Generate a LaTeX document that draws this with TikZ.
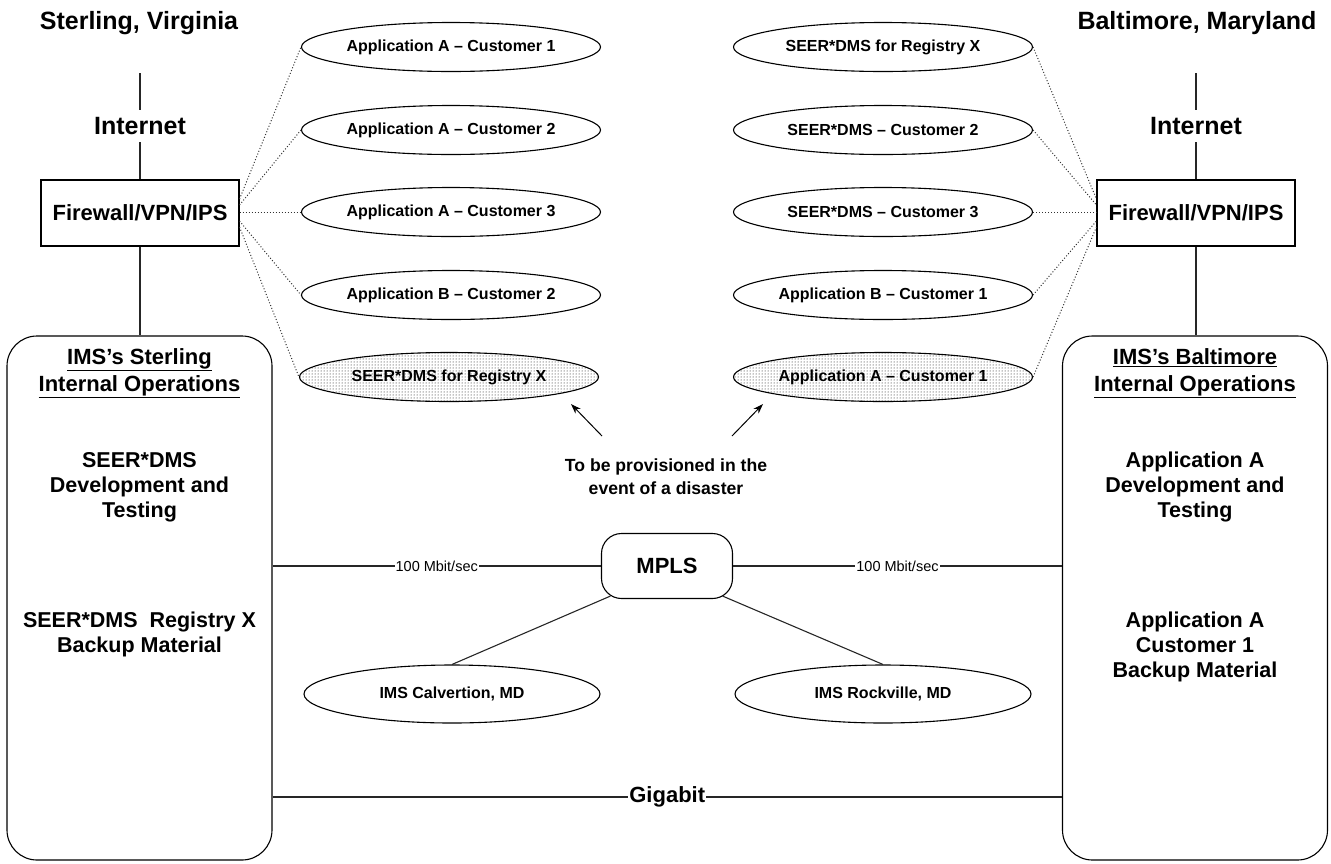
\documentclass[tikz,border=0pt]{standalone}
\usepackage{fontspec}
\setmainfont{Liberation Sans}
\usetikzlibrary{shapes.geometric,patterns,calc,arrows.meta}
\begin{document}
\begin{tikzpicture}[x=1pt,y=-1pt,
  line/.style={draw=black!85, line width=1.1pt},
  dotline/.style={draw=black!80, line width=1pt, dotted},
  fwbox/.style={draw, line width=1.1pt, minimum width=198pt, minimum height=66pt, inner sep=0pt, font=\fontsize{22}{26}\selectfont\bfseries},
  title/.style={font=\fontsize{25}{30}\selectfont\bfseries, inner sep=0pt},
  inet/.style={font=\fontsize{25}{30}\selectfont\bfseries, inner sep=0pt, minimum height=32pt},
  app/.style={ellipse, draw, line width=1.1pt, minimum width=299pt, minimum height=49pt, inner sep=0pt, font=\fontsize{16}{19}\selectfont\bfseries},
  dr/.style={app, pattern=dots, pattern color=black},
  site/.style={ellipse, draw, line width=1.1pt, minimum width=296pt, minimum height=58pt, inner sep=0pt, font=\fontsize{16}{19}\selectfont\bfseries},
  opsbox/.style={draw, line width=1.1pt, rounded corners=30pt, minimum width=265pt, minimum height=524pt, inner sep=0pt},
  head/.style={align=center, inner sep=0pt, anchor=north, font=\fontsize{22}{27}\selectfont\bfseries},
  body/.style={align=center, inner sep=0pt, anchor=north, font=\fontsize{21.5}{25}\selectfont\bfseries},
  mplsbox/.style={draw, line width=1.1pt, rounded corners=20pt, minimum width=131pt, minimum height=65pt, inner sep=0pt, font=\fontsize{22}{26}\selectfont\bfseries},
  speed/.style={fill=white, inner sep=1pt, font=\fontsize{14.5}{17}\selectfont},
  giga/.style={fill=white, inner sep=1pt, font=\fontsize{22}{26}\selectfont\bfseries},
  note/.style={align=center, inner sep=0pt, font=\fontsize{17.6}{23}\selectfont\bfseries},
  arr/.style={draw, line width=1pt, -{Stealth[length=10pt,width=7pt]}}
]
\useasboundingbox (0,0) rectangle (1331,863);

% titles
\node[title] (tL) at (139,23) {Sterling, Virginia};
\node[title] (tR) at (1197,23) {Baltimore, Maryland};

% internet
\coordinate (topL) at (140,73);
\coordinate (topR) at (1196,73);
\node[inet] (inetL) at (140,126) {Internet};
\node[inet] (inetR) at (1196,126) {Internet};

% firewalls
\node[fwbox] (fwL) at (140,213) {Firewall/VPN/IPS};
\node[fwbox] (fwR) at (1196,213) {Firewall/VPN/IPS};

% operations boxes
\node[opsbox] (opsL) at (139.5,598) {};
\node[opsbox] (opsR) at (1195,598) {};

\node[head] (hL) at (139.5,348) {\underline{IMS’s Sterling}\\\underline{Internal Operations}};
\node[head] (hR) at (1195,348) {\underline{IMS’s Baltimore}\\\underline{Internal Operations}};
\node[body] (bL1) at (139.5,452) {SEER*DMS\\Development and\\Testing};
\node[body] (bL2) at (139.5,612) {SEER*DMS\ \ Registry X\\Backup Material};
\node[body] (bR1) at (1195,452) {Application A\\Development and\\Testing};
\node[body] (bR2) at (1195,612) {Application A\\Customer 1\\Backup Material};

% application ellipses
\node[app] (a1) at (451,47) {Application A – Customer 1};
\node[app] (a2) at (451,130) {Application A – Customer 2};
\node[app] (a3) at (451,212) {Application A – Customer 3};
\node[app] (a4) at (451,295) {Application B – Customer 2};
\node[dr]  (a5) at (449,377) {SEER*DMS for Registry X};

\node[app] (b1) at (883,47) {SEER*DMS for Registry X};
\node[app] (b2) at (883,130) {SEER*DMS – Customer 2};
\node[app] (b3) at (883,212) {SEER*DMS – Customer 3};
\node[app] (b4) at (883,295) {Application B – Customer 1};
\node[dr]  (b5) at (883,377) {Application A – Customer 1};

% MPLS and sites
\node[mplsbox] (mpls) at (667,566) {MPLS};
\node[site] (calv) at (452,694) {IMS Calvertion, MD};
\node[site] (rock) at (883,694) {IMS Rockville, MD};

% note
\node[note] (note) at (666,477) {To be provisioned in the\\event of a disaster};

% vertical connectors
\draw[line] (topL) -- (inetL.north);
\draw[line] (inetL.south) -- (fwL.north);
\draw[line] (fwL.south) -- (fwL.south |- opsL.north);
\draw[line] (topR) -- (inetR.north);
\draw[line] (inetR.south) -- (fwR.north);
\draw[line] (fwR.south) -- (fwR.south |- opsR.north);

% dotted connectors left
\coordinate (l1) at ($(fwL.east)+(0,-14)$);
\coordinate (l2) at ($(fwL.east)+(0,-8)$);
\coordinate (l3) at ($(fwL.east)+(0,-1)$);
\coordinate (l4) at ($(fwL.east)+(0,8)$);
\coordinate (l5) at ($(fwL.east)+(0,14)$);
\draw[dotline] (l1) -- (a1.west);
\draw[dotline] (l2) -- (a2.west);
\draw[dotline] (l3) -- (a3.west);
\draw[dotline] (l4) -- (a4.west);
\draw[dotline] (l5) -- (a5.west);

% dotted connectors right
\coordinate (r1) at ($(fwR.west)+(0,-14)$);
\coordinate (r2) at ($(fwR.west)+(0,-8)$);
\coordinate (r3) at ($(fwR.west)+(0,-1)$);
\coordinate (r4) at ($(fwR.west)+(0,8)$);
\coordinate (r5) at ($(fwR.west)+(0,14)$);
\draw[dotline] (b1.east) -- (r1);
\draw[dotline] (b2.east) -- (r2);
\draw[dotline] (b3.east) -- (r3);
\draw[dotline] (b4.east) -- (r4);
\draw[dotline] (b5.east) -- (r5);

% MPLS links
\draw[line] (mpls.west -| opsL.east) -- node[speed] {100 Mbit/sec} (mpls.west);
\draw[line] (mpls.east) -- node[speed] {100 Mbit/sec} (mpls.east -| opsR.west);
\coordinate (m1) at ($(mpls.south west)+(9.5,-3)$);
\coordinate (m2) at ($(mpls.south east)+(-10.5,-3)$);
\draw[line] (m1) -- (calv.north);
\draw[line] (m2) -- (rock.north);

% gigabit
\coordinate (gy) at (0,797);
\draw[line] (opsL.east |- gy) -- node[giga] {Gigabit} (opsR.west |- gy);

% arrows
\coordinate (t1) at (602,436);
\coordinate (h1) at (571,404);
\coordinate (t2) at (732,436);
\coordinate (h2) at (763,404);
\draw[arr] (t1) -- (h1);
\draw[arr] (t2) -- (h2);
\end{tikzpicture}
\end{document}
